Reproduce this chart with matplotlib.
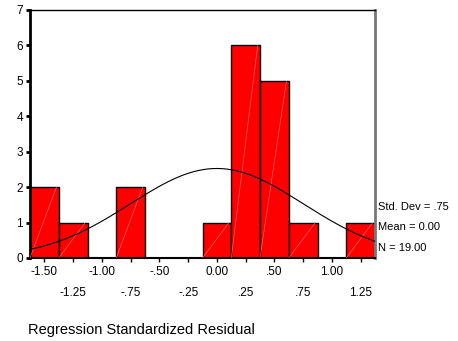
import numpy as np
import matplotlib
matplotlib.use("Agg")
import matplotlib.pyplot as plt

plt.rcParams['font.family'] = ['Liberation Sans', 'DejaVu Sans']

# histogram bins (centres) and counts
bin_centers = [-1.50, -1.25, -1.00, -0.75, -0.50, -0.25, 0.00, 0.25, 0.50, 0.75, 1.00, 1.25]
counts = [2, 1, 0, 2, 0, 0, 1, 6, 5, 1, 0, 1]
tick_labels = ['-1.50', '-1.25', '-1.00', '-.75', '-.50', '-.25',
               '0.00', '.25', '.50', '.75', '1.00', '1.25']
std_dev = 0.75
mean = 0.00
n_total = 19
bin_w = 0.25

fig = plt.figure(figsize=(4.58, 3.41), dpi=100)
ax = fig.add_axes([30/458, 1 - 258/341, 345/458, 248/341])

for c, h in zip(bin_centers, counts):
    if h == 0:
        continue
    # grey shadow on the right edge
    ax.bar(c + 0.012, h, width=bin_w, color='#9a9a9a', edgecolor='none', zorder=1)
    ax.bar(c, h, width=bin_w, color='#ff0000', edgecolor='black', linewidth=1.0, zorder=2)
    # faint diagonal line inside the bar
    ax.plot([c - bin_w/2, c + bin_w/2 - 0.02], [0, h], color='#ff8080', lw=0.4, zorder=3)

# normal curve
xs = np.linspace(-1.625, 1.375, 300)
ys = n_total * bin_w / (std_dev * np.sqrt(2 * np.pi)) * np.exp(-0.5 * ((xs - mean) / std_dev) ** 2)
ax.plot(xs, ys, color='black', lw=0.8, zorder=4)

ax.set_xlim(-1.625, 1.375)
ax.set_ylim(0, 7)
ax.set_yticks(range(8))
ax.set_xticks(bin_centers)
ax.set_xticklabels([''] * len(bin_centers))
for i, (c, lab) in enumerate(zip(bin_centers, tick_labels)):
    yoff = -0.40 if i % 2 == 0 else -1.00
    ax.text(c, yoff, lab, ha='center', va='center', fontsize=8.5)

ax.tick_params(axis='y', length=3, width=2, labelsize=8.5, pad=2)
ax.tick_params(axis='x', length=3, width=1, direction='out')
ax.spines['left'].set_linewidth(2)
ax.spines['bottom'].set_linewidth(1.5)
ax.spines['top'].set_linewidth(1)
ax.spines['right'].set_linewidth(2)
ax.spines['right'].set_color('#777777')

fig.text(378/458, 1 - 207/341, 'Std. Dev = .75', fontsize=8, va='center', ha='left')
fig.text(378/458, 1 - 227/341, 'Mean = 0.00', fontsize=8, va='center', ha='left')
fig.text(378/458, 1 - 248/341, 'N = 19.00', fontsize=8, va='center', ha='left')

fig.text(28/458, 1 - 330/341, 'Regression Standardized Residual', fontsize=10.5, va='center', ha='left')

fig.savefig('out.png', dpi=100)
